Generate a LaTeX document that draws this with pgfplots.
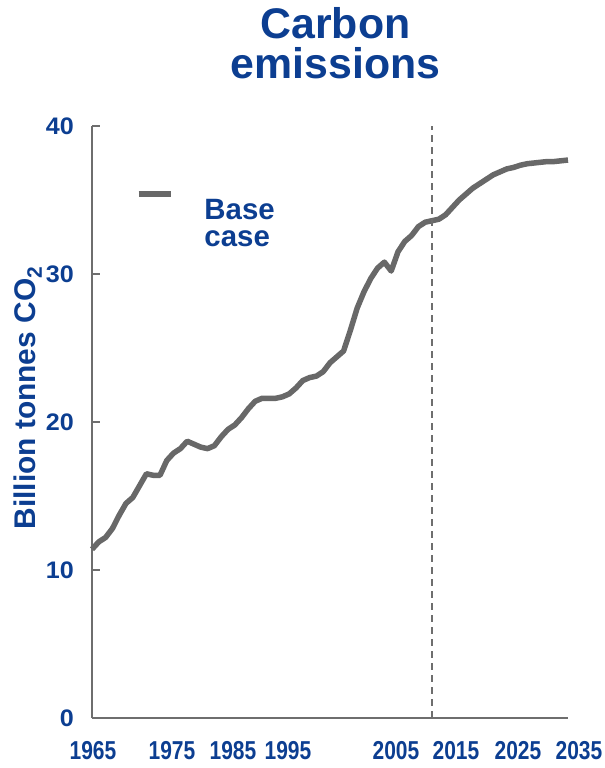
\documentclass[border=0pt]{standalone}
\usepackage{pgfplots}
\pgfplotsset{compat=1.18}
\usepackage{fontspec}
\setmainfont{Liberation Sans}
\usepackage{graphicx}

\definecolor{titleblue}{RGB}{12,62,145}
\definecolor{linegray}{RGB}{104,104,104}
\definecolor{axisgray}{RGB}{110,110,110}

% x labels: shifted off their ticks and set narrow
\newcommand{\xl}[2]{\makebox[0pt]{\kern#1\scalebox{0.81}[1]{#2}}}
% y labels: set slightly wide
\newcommand{\yl}[1]{\scalebox{1.05}[1]{#1}}

\pgfplotstableread{
year value
1965 11.4
1966 11.9
1967 12.2
1968 12.8
1969 13.7
1970 14.5
1971 14.9
1972 15.7
1973 16.5
1974 16.4
1975 16.4
1976 17.4
1977 17.9
1978 18.2
1979 18.7
1980 18.5
1981 18.3
1982 18.2
1983 18.4
1984 19.0
1985 19.5
1986 19.8
1987 20.3
1988 20.9
1989 21.4
1990 21.6
1991 21.6
1992 21.6
1993 21.7
1994 21.9
1995 22.3
1996 22.8
1997 23.0
1998 23.1
1999 23.4
2000 24.0
2001 24.4
2002 24.8
2003 26.2
2004 27.7
2005 28.8
2006 29.7
2007 30.4
2008 30.8
2009 30.2
2010 31.5
2011 32.2
2012 32.6
2013 33.2
2014 33.5
2015 33.6
2016 33.7
2017 34.0
2018 34.5
2019 35.0
2020 35.4
2021 35.8
2022 36.1
2023 36.4
2024 36.7
2025 36.9
2026 37.1
2027 37.2
2028 37.35
2029 37.45
2030 37.5
2031 37.55
2032 37.6
2033 37.6
2034 37.65
2035 37.7
}\basecase

\begin{document}
\begin{tikzpicture}
\useasboundingbox (0,0) rectangle (605bp,768bp);

\node[anchor=base, inner sep=0pt, text=titleblue,
      font=\fontsize{43}{40}\selectfont\bfseries] at (335.5bp,729bp) {Carbon};
\node[anchor=base, inner sep=0pt, text=titleblue,
      font=\fontsize{43}{40}\selectfont\bfseries] at (335.5bp,689bp) {emissions};

\begin{axis}[
  at={(92bp,50bp)}, anchor=south west,
  scale only axis, width=476bp, height=592bp,
  xmin=1965, xmax=2035, ymin=0, ymax=40,
  axis x line*=bottom, axis y line*=left,
  axis line style={axisgray, line width=2bp},
  clip=false,
  tick align=inside,
  major tick length=8bp,
  ytick={0,10,20,30,40},
  yticklabels={\yl{0},\yl{10},\yl{20},\yl{30},\yl{40}},
  y tick style={axisgray, line width=2bp},
  yticklabel style={font=\fontsize{24}{25}\selectfont\bfseries, text=titleblue, inner xsep=18bp},
  xtick={1965,1975,1985,1995,2005,2015,2025,2035},
  xticklabels={\xl{2bp}{1965},\xl{24bp}{1975},\xl{10bp}{1985},\xl{-16bp}{1995},
               \xl{64bp}{2005},\xl{48bp}{2015},\xl{36bp}{2025},\xl{22bp}{2035}},
  x tick style={draw=none},
  xticklabel style={anchor=center, yshift=-33bp, font=\fontsize{26}{27}\selectfont\bfseries, text=titleblue},
  ylabel={Billion tonnes CO\textsubscript{2}},
  every axis y label/.style={at={(rel axis cs:0,0.5405)}, xshift=-64bp, rotate=90, anchor=center,
    font=\fontsize{30}{31}\selectfont\bfseries, text=titleblue},
  legend style={at={(0.092,0.8902)}, anchor=north west, draw=none, fill=none, inner sep=0pt,
    font=\fontsize{29.5}{27}\selectfont\bfseries, text=titleblue,
    cells={align=left, inner sep=0pt, anchor=west},
    /tikz/every odd column/.append style={column sep=29bp}},
  legend image code/.code={\draw[#1] (0bp,30bp) -- (32bp,30bp);},
]
\addplot[linegray, line width=5.5bp, line join=round] table[x=year, y=value] {\basecase};
\addlegendentry{Base\\case}
\addplot[forget plot, axisgray, line width=1.5bp, dash pattern=on 7bp off 5bp]
  coordinates {(2015,0) (2015,40)};
\end{axis}
\end{tikzpicture}
\end{document}
